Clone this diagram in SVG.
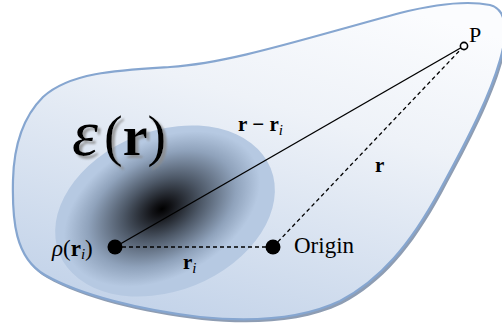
<svg xmlns="http://www.w3.org/2000/svg" width="502" height="328" viewBox="0 0 502 328">
<defs>
<linearGradient id="blobFill" x1="0.75" y1="0" x2="0.3" y2="1">
<stop offset="0" stop-color="#fbfcfe"/>
<stop offset="0.35" stop-color="#eef2f8"/>
<stop offset="1" stop-color="#c3d3e9"/>
</linearGradient>
<radialGradient id="spot" gradientUnits="userSpaceOnUse" cx="0" cy="0" r="1" gradientTransform="translate(-2,-3) rotate(-6) scale(105,68)">
<stop offset="0" stop-color="#000000"/>
<stop offset="0.1" stop-color="#121317"/>
<stop offset="0.4" stop-color="#4d5867"/>
<stop offset="0.75" stop-color="#8fa2bb"/>
<stop offset="1" stop-color="#b6c9e2"/>
</radialGradient>
<filter id="shadow" x="-10%" y="-10%" width="130%" height="130%">
<feDropShadow dx="3" dy="3" stdDeviation="0.8" flood-color="#8a8a8a" flood-opacity="0.8"/>
</filter>
<style>
.t{font-family:"Liberation Serif","Times New Roman",serif;fill:#000}
.b{font-weight:bold}
.it{font-style:italic;font-weight:normal}
.dash{stroke:#000;stroke-width:1.3;stroke-dasharray:4 3;fill:none}
.solid{stroke:#000;stroke-width:1.4;fill:none}
.dot{fill:#000}
</style>
</defs>
<g id="region">
<path transform="translate(2,3)" fill="#8e9db3" d="M43,97 C70,72 120,70 170,67 C230,63 300,40 400,13 C440,3 470,1 490,5 C510,10 506,40 500,60 C490,95 470,135 440,190 C410,245 380,280 340,301 C300,320 250,322 200,317 C140,310 80,295 45,275 C15,258 12,220 13,180 C14,140 25,115 43,97 Z"/>
<path fill="url(#blobFill)" stroke="#86a6d0" stroke-width="2.2" d="M43,97 C70,72 120,70 170,67 C230,63 300,40 400,13 C440,3 470,1 490,5 C510,10 506,40 500,60 C490,95 470,135 440,190 C410,245 380,280 340,301 C300,320 250,322 200,317 C140,310 80,295 45,275 C15,258 12,220 13,180 C14,140 25,115 43,97 Z"/>
</g>
<g id="density" transform="translate(165,211) rotate(-22)">
<ellipse cx="0" cy="0" rx="114" ry="80" fill="url(#spot)"/>
</g>
<g id="epsilon-label" filter="url(#shadow)">
<text class="t" x="72" y="155"><tspan class="it" font-size="66">ε</tspan><tspan x="104" font-size="56">(</tspan><tspan class="b" font-size="56">r</tspan><tspan font-size="56">)</tspan></text>
</g>
<g id="connectors">
<line class="solid" x1="115" y1="247" x2="464" y2="46"/>
<line class="dash" x1="115" y1="247" x2="273" y2="247"/>
<line class="dash" x1="273" y1="247" x2="464" y2="46"/>
</g>
<g id="source">
<circle class="dot" cx="115" cy="247" r="7.5"/>
<text class="t" x="52" y="256" font-size="23"><tspan class="it">ρ</tspan>(<tspan class="b">r</tspan><tspan class="it" font-size="15" dy="3">i</tspan><tspan dy="-3">)</tspan></text>
</g>
<g id="origin">
<circle class="dot" cx="273" cy="247" r="7.5"/>
<text class="t" x="294" y="253" font-size="23">Origin</text>
</g>
<g id="point-P">
<circle cx="464" cy="46" r="3.6" fill="#fff" stroke="#000" stroke-width="1.6"/>
<text class="t" x="469" y="42" font-size="22">P</text>
</g>
<g id="labels">
<text class="t b" x="238" y="131" font-size="21">r − r<tspan class="it" font-size="15" dy="4">i</tspan></text>
<text class="t b" x="375" y="172" font-size="21">r</text>
<text class="t b" x="183" y="269" font-size="21">r<tspan class="it" font-size="15" dy="4">i</tspan></text>
</g>
</svg>
